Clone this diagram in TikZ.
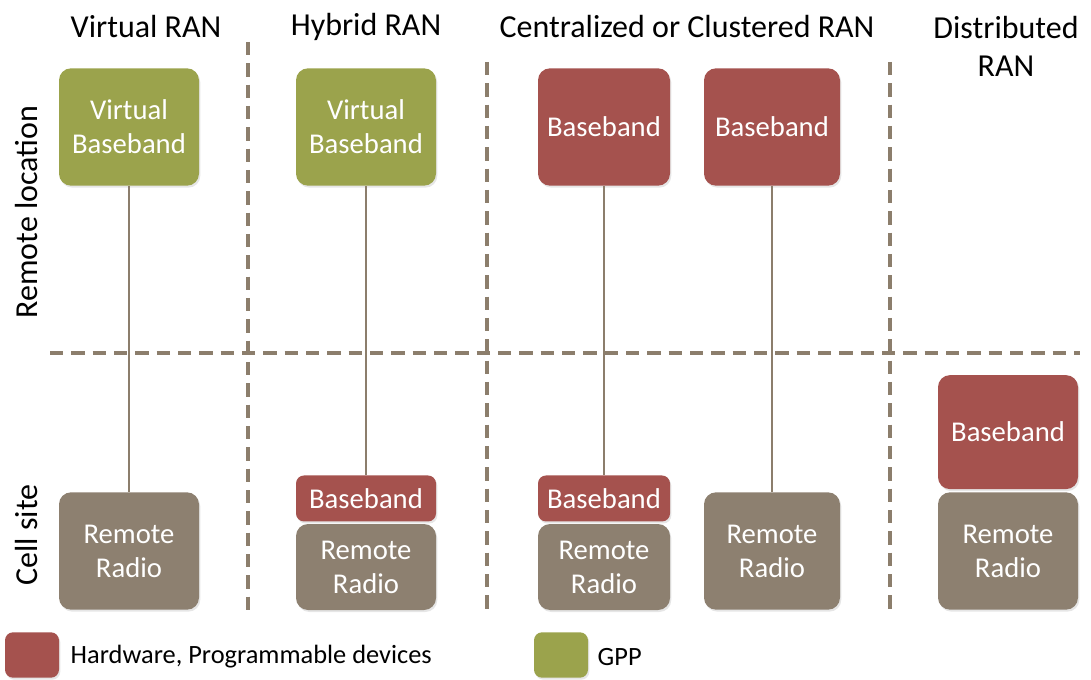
\documentclass[tikz,border=0pt]{standalone}
\usepackage{fontspec}
\setmainfont{Carlito}
\usetikzlibrary{positioning, shadows}
\definecolor{gppgreen}{RGB}{155,163,76}
\definecolor{hwred}{RGB}{165,82,78}
\definecolor{radiogrey}{RGB}{141,128,112}
\definecolor{linegrey}{RGB}{140,126,108}

\begin{document}
\begin{tikzpicture}[x=0.75pt, y=-0.75pt,
  blk/.style={rounded corners=9pt, text=white, align=center, inner sep=0pt,
    font=\fontsize{21.5}{25.5}\selectfont, minimum width=105pt,
    drop shadow={opacity=0.2, shadow xshift=1pt, shadow yshift=-1.5pt}},
  gppbox/.style={blk, fill=gppgreen, minimum height=88pt},
  hwbox/.style={blk, fill=hwred, minimum height=88pt},
  hwslim/.style={blk, fill=hwred, minimum height=34.5pt, rounded corners=6pt},
  radiobox/.style={blk, fill=radiogrey, minimum height=88pt},
  radioslim/.style={blk, fill=radiogrey, minimum height=64.5pt},
  heading/.style={font=\fontsize{24}{28.5}\selectfont, align=center},
  sep/.style={linegrey, line width=2.8pt, dash pattern=on 10pt off 6pt},
  link/.style={linegrey, line width=1.6pt},
  legsq/.style={rounded corners=6pt, minimum width=40.5pt, minimum height=34pt,
    inner sep=0pt, drop shadow={opacity=0.2, shadow xshift=1pt, shadow yshift=-1.5pt}},
  legtext/.style={font=\fontsize{19.8}{23}\selectfont, anchor=west}]
  \useasboundingbox (0,0) rectangle (1091,680);

  % separators
  \draw[sep] (50,353) -- (1080,353);
  \draw[sep] (248,42) -- (248,615);
  \foreach \x in {487, 890} {
    \draw[sep] (\x,62) -- (\x,615);
  }

  % headings
  \node[heading] (hvirt) at (146,27) {Virtual RAN};
  \node[heading] (hhyb) at (366,27) {Hybrid RAN};
  \node[heading] (hcent) at (687,27) {Centralized or Clustered RAN};
  \node[heading] (hdist) at (1006,46) {Distributed\\RAN};
  \node[heading, rotate=90] (hremote) at (27,212) {Remote location};
  \node[heading, rotate=90] (hcell) at (27,535) {Cell site};

  % virtual RAN
  \node[gppbox] (vbb1) at (129,127) {Virtual\\Baseband};
  \node[radiobox] (rr1) at (129,551) {Remote\\Radio};
  \draw[link] (vbb1) -- (rr1);

  % hybrid RAN
  \node[gppbox] (vbb2) at (366,127) {Virtual\\Baseband};
  \node[radioslim] (rr2) at (366,567) {Remote\\Radio};
  \node[hwslim, above=1.5pt of rr2] (bbs2) {Baseband};
  \draw[link] (vbb2) -- (bbs2);

  % centralized / clustered RAN
  \node[hwbox, minimum width=99pt] (bb3) at (604,127) {Baseband};
  \node[radioslim, minimum width=99pt] (rr3) at (604,567) {Remote\\Radio};
  \node[hwslim, minimum width=99pt, above=1.5pt of rr3] (bbs3) {Baseband};
  \draw[link] (bb3) -- (bbs3);
  \node[hwbox, minimum width=102pt] (bb4) at (772,127) {Baseband};
  \node[radiobox, minimum width=102pt] (rr4) at (772,551) {Remote\\Radio};
  \draw[link] (bb4) -- (rr4);

  % distributed RAN
  \node[radiobox] (rr5) at (1008,551) {Remote\\Radio};
  \node[hwbox, minimum height=85.5pt, above=2pt of rr5] (bb5) {Baseband};

  % legend
  \node[legsq, fill=hwred] (keyhw) at (32,655) {};
  \node[legtext] (keyhwtxt) at (66,657) {Hardware, Programmable devices};
  \node[legsq, fill=gppgreen] (keygpp) at (561,655) {};
  \node[legtext] (keygpptxt) at (593,657) {GPP};
\end{tikzpicture}
\end{document}
